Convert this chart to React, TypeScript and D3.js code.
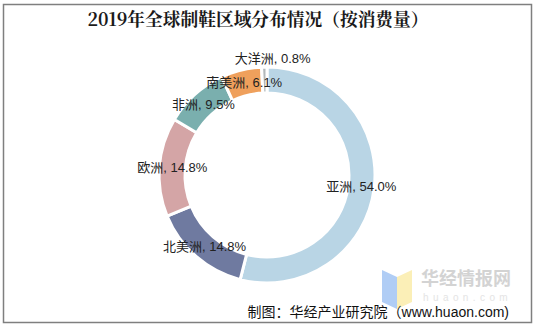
import React from "react";
import * as d3 from "d3";

const categories = ["亚洲", "北美洲", "欧洲", "非洲", "南美洲", "大洋洲"];
const values = [54.0, 14.8, 14.8, 9.5, 6.1, 0.8];
const colors = ["#b9d5e5", "#6f7aa0", "#d4a5a6", "#7aafae", "#efa05c", "#b2b8bb"];
const title = "2019年全球制鞋区域分布情况（按消费量）";
const source = "制图：华经产业研究院（www.huaon.com)";

const W = 535;
const H = 326;
const cx = 267;
const cy = 175;
const outerR = 108;
const innerR = 82;

export default function App() {
  const pie = d3.pie<number>().sort(null).value((d) => d);
  const arcs = pie(values);
  const arcGen = d3.arc<d3.PieArcDatum<number>>().innerRadius(innerR).outerRadius(outerR);
  const labelArc = d3.arc<d3.PieArcDatum<number>>().innerRadius(95).outerRadius(95);

  const labels = arcs.map((a, i) => {
    const [x, y] = labelArc.centroid(a);
    return { x: cx + x, y: cy + y, text: `${categories[i]}, ${values[i].toFixed(1)}%` };
  });
  for (let i = 1; i < labels.length; i++) {
    const prev = labels[i - 1];
    const cur = labels[i];
    if (Math.abs(cur.y - prev.y) < 24 && Math.abs(cur.x - prev.x) < 70 && i === labels.length - 1) {
      cur.y = prev.y - 24;
      cur.x = cur.x + 8;
    }
  }

  const font = "'Liberation Sans', Arial, 'Noto Sans CJK SC', sans-serif";

  return (
    <svg width={W} height={H} style={{ position: "absolute", left: 0, top: 0, display: "block" }}>
      <rect x={0} y={0} width={W} height={H} fill="#fff" />
      <rect x={3.5} y={4.5} width={528} height={318} fill="none" stroke="#7f7f7f" strokeWidth={1.5} />
      <text
        x={258}
        y={26}
        textAnchor="middle"
        fontFamily="'Noto Serif CJK SC', 'DejaVu Serif', 'Noto Sans CJK SC', serif"
        fontSize={18}
        fontWeight="bold"
        fill="#1a1a1a"
        textLength={341}
        lengthAdjust="spacingAndGlyphs"
      >
        {title}
      </text>
      <g transform={`translate(${cx},${cy})`}>
        {arcs.map((a, i) => (
          <path key={i} d={arcGen(a) || ""} fill={colors[i]} stroke="#fff" strokeWidth={3} />
        ))}
      </g>
      {labels.map((l, i) => (
        <text
          key={i}
          x={l.x}
          y={l.y}
          textAnchor="middle"
          dominantBaseline="central"
          fontFamily={font}
          fontSize={13}
          fill="#222"
        >
          {l.text}
        </text>
      ))}
      <g opacity={0.9}>
        <polygon points="382,270 397,277 397,309 382,302" fill="#a8c8f5" />
        <polygon points="397,277 412,270 412,302 397,309" fill="#fbeeb0" />
        <text x={421} y={285} fontFamily="'Noto Sans CJK SC', sans-serif" fontSize={18} fontWeight="bold" fill="#cfcfcf">
          华经情报网
        </text>
        <text x={423} y={301} fontFamily={font} fontSize={10} fill="#e2e2e2" letterSpacing={4.4}>
          huaon.com
        </text>
      </g>
      <text x={509} y={317} textAnchor="end" fontFamily={font} fontSize={14} fill="#111">
        {source}
      </text>
    </svg>
  );
}
